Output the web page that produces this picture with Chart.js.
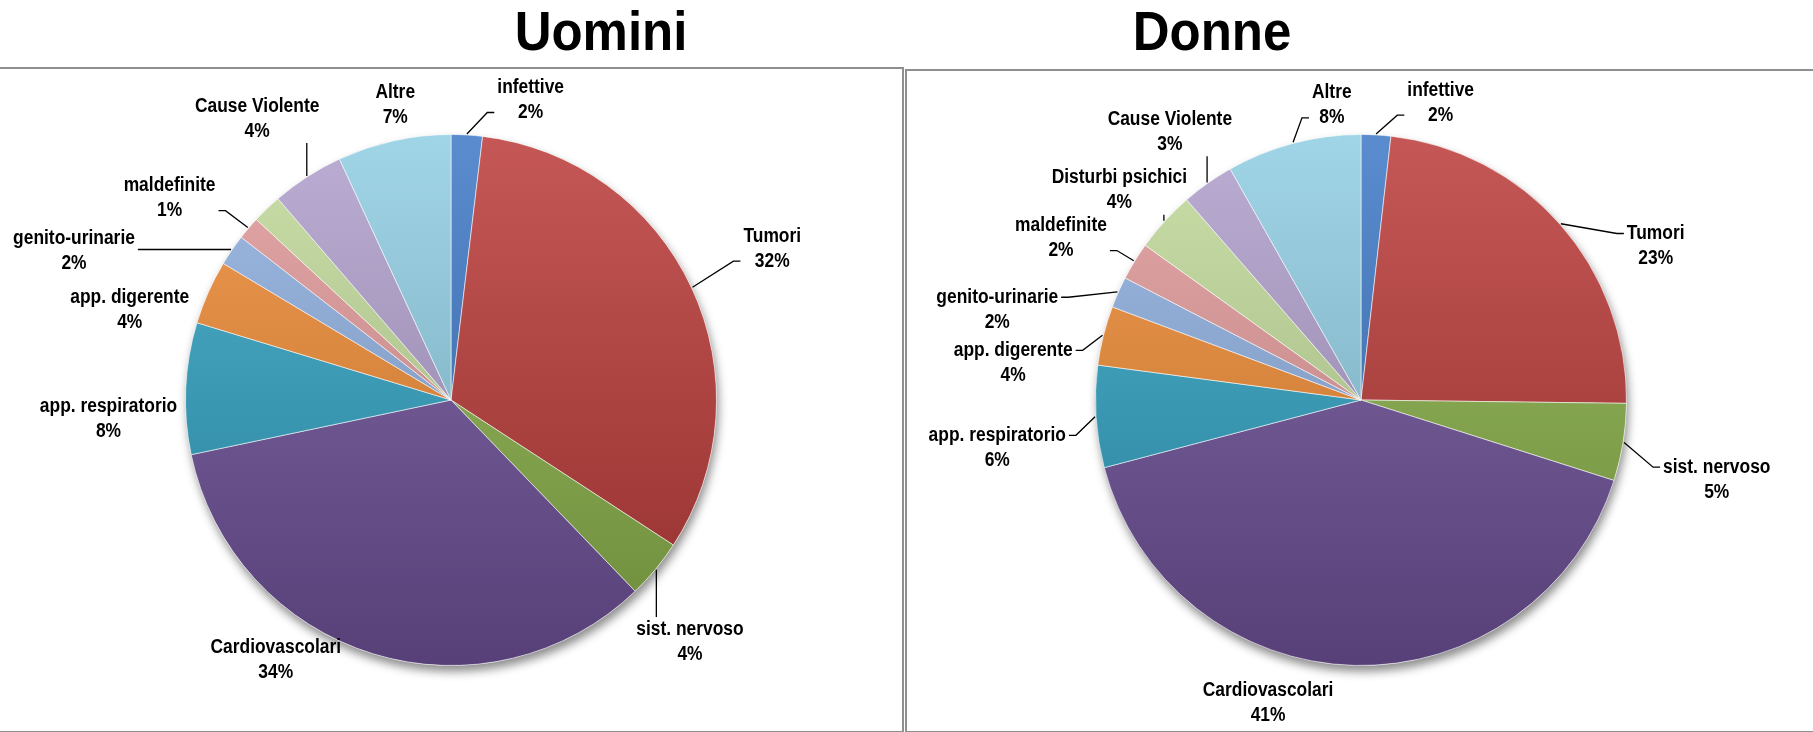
<!DOCTYPE html>
<html>
<head>
<meta charset="utf-8">
<script src="https://cdn.jsdelivr.net/npm/chart.js@4.4.1/dist/chart.umd.min.js"></script>
<style>
  html, body { margin: 0; padding: 0; background: #fff; }
  body { width: 1813px; height: 732px; position: relative; overflow: hidden; font-family: "Liberation Sans", Arial, sans-serif; }
  .title { position: absolute; top: 3px; width: 400px; text-align: center; font-weight: bold; font-size: 56px; line-height: 56px; color: #000; transform: scaleX(0.91); }
  .panel { position: absolute; box-sizing: border-box; border: 2px solid #8f8f8f; }
  .chartBox { position: absolute; }
</style>
</head>
<body>
<div class="title" style="left:401px">Uomini</div>
<div class="title" style="left:1012px">Donne</div>

<div class="panel" style="left:-2px; top:67px; width:906px; height:666px;"></div>
<div class="panel" style="left:905px; top:69px; width:920px; height:664px;"></div>

<div class="chartBox" style="left:0px; top:68px; width:902px; height:663px;"><canvas id="uomini"></canvas></div>
<div class="chartBox" style="left:907px; top:71px; width:906px; height:660px;"><canvas id="donne"></canvas></div>

<script>
const causes = [
  "infettive", "Tumori", "sist. nervoso", "Cardiovascolari", "app. respiratorio",
  "app. digerente", "genito-urinarie", "maldefinite", "Disturbi psichici",
  "Cause Violente", "Altre",
];
const uominiValues = [1.9, 32.3, 3.6, 33.9, 8.0, 3.9, 1.9, 1.4, 1.8, 4.4, 6.9];
const donneValues = [1.8, 23.4, 4.7, 41.0, 6.2, 3.6, 1.9, 2.3, 3.7, 3.2, 8.2];
const sliceColors = [
  "#3d78c6", "#bb3b38", "#8ab24a", "#6f529a", "#31a3c3", "#f08a33",
  "#8fb0e0", "#e39a9a", "#c2db9a", "#b09fcc", "#8fcde3",
];

// label placement, in units of the pie radius from its centre (null = no label)
const uominiLabelPos = [
  [0.30, -1.13], [1.21, -0.57], [0.90, 0.91], [-0.66, 0.98], [-1.29, 0.07],
  [-1.21, -0.34], [-1.42, -0.56], [-1.06, -0.76], null, [-0.73, -1.06], [-0.21, -1.11],
];
const donneLabelPos = [
  [0.30, -1.12], [1.11, -0.58], [1.34, 0.30], [-0.35, 1.14], [-1.37, 0.18],
  [-1.31, -0.14], [-1.37, -0.34], [-1.13, -0.61], [-0.91, -0.79], [-0.72, -1.01], [-0.11, -1.11],
];
const uominiLeaders = [1, 1, 1, 0, 0, 0, 1, 1, 0, 1, 0];
const donneLeaders = [1, 1, 1, 0, 1, 1, 1, 1, 1, 1, 1];

const TEXT_SCALE = 0.87; // labels are a narrow bold face

function shade(hex, f) {
  const n = parseInt(hex.slice(1), 16);
  let rgb = [(n >> 16) & 255, (n >> 8) & 255, n & 255];
  rgb = rgb.map((v) => Math.round(f > 0 ? v + (255 - v) * f : v * (1 + f)));
  return `rgb(${rgb[0]}, ${rgb[1]}, ${rgb[2]})`;
}

// soft shadow under the pie
const pieShadow = {
  id: "pieShadow",
  beforeDatasetsDraw(chart) {
    const arc = chart.getDatasetMeta(0).data[0];
    if (!arc) return;
    const { x, y, outerRadius } = arc.getProps(["x", "y", "outerRadius"], true);
    const ctx = chart.ctx;
    ctx.save();
    ctx.shadowColor = "rgba(0, 0, 0, 0.45)";
    ctx.shadowBlur = 10;
    ctx.shadowOffsetX = 2;
    ctx.shadowOffsetY = 6;
    ctx.fillStyle = "#fff";
    ctx.beginPath();
    ctx.arc(x, y, outerRadius, 0, Math.PI * 2);
    ctx.fill();
    ctx.restore();
  },
};

function narrowText(ctx, text, x, y) {
  ctx.save();
  ctx.translate(x, y);
  ctx.scale(TEXT_SCALE, 1);
  ctx.fillText(text, 0, 0);
  ctx.restore();
}

// two line labels (name + percent) with leader lines
const pieLabels = {
  id: "pieLabels",
  afterDatasetsDraw(chart, args, opts) {
    const ctx = chart.ctx;
    const meta = chart.getDatasetMeta(0);
    const values = chart.data.datasets[0].data;
    const total = values.reduce((a, b) => a + b, 0);
    ctx.save();
    ctx.font = "bold 20px 'Liberation Sans', Arial, sans-serif";
    ctx.fillStyle = "#000";
    ctx.strokeStyle = "#000";
    ctx.lineWidth = 1.3;
    ctx.textAlign = "center";
    ctx.textBaseline = "middle";
    meta.data.forEach((arc, i) => {
      const pos = opts.positions[i];
      if (!pos) return;
      const { x, y, startAngle, endAngle, outerRadius } = arc.getProps(
        ["x", "y", "startAngle", "endAngle", "outerRadius"], true);
      const lx = x + pos[0] * outerRadius;
      const ly = y + pos[1] * outerRadius;
      const name = chart.data.labels[i];
      const pct = Math.round((values[i] / total) * 100) + "%";
      const line1 = ly - 12.5;
      const line2 = ly + 12.5;
      narrowText(ctx, name, lx, line1);
      narrowText(ctx, pct, lx, line2);

      if (!opts.leaders[i]) return;
      const mid = (startAngle + endAngle) / 2;
      const ex = x + Math.cos(mid) * (outerRadius + 1);
      const ey = y + Math.sin(mid) * (outerRadius + 1);
      const half = TEXT_SCALE * Math.max(ctx.measureText(name).width, ctx.measureText(pct).width) / 2;
      const left = lx - half;
      const right = lx + half;
      ctx.beginPath();
      ctx.moveTo(ex, ey);
      if (ex > left && ex < right) {
        ctx.lineTo(ex, ey < ly ? line1 - 12 : line2 + 12);
      } else {
        const dir = lx > ex ? 1 : -1;
        const ax = dir > 0 ? left - 3 : right + 3;
        const ay = Math.min(Math.max(ey, line1), line2);
        ctx.lineTo(ax - dir * 7, ay);
        ctx.lineTo(ax, ay);
      }
      ctx.stroke();
    });
    ctx.restore();
  },
};

function makePie(id, values, labelPos, leaders, padding) {
  const ctx = document.getElementById(id).getContext("2d");
  return new Chart(ctx, {
    type: "pie",
    data: {
      labels: causes,
      datasets: [
        {
          data: values,
          backgroundColor: (c) => {
            const area = c.chart.chartArea;
            const base = sliceColors[c.dataIndex];
            if (!area) return base;
            const g = c.chart.ctx.createLinearGradient(0, area.top, 0, area.bottom);
            g.addColorStop(0, shade(base, 0.15));
            g.addColorStop(1, shade(base, -0.22));
            return g;
          },
          borderColor: "rgba(255, 255, 255, 0.55)",
          borderWidth: 1,
        },
      ],
    },
    options: {
      responsive: true,
      maintainAspectRatio: false,
      animation: false,
      rotation: 0,
      layout: { padding: padding },
      plugins: {
        legend: { display: false },
        tooltip: { enabled: false },
        pieLabels: { positions: labelPos, leaders: leaders },
      },
    },
    plugins: [pieShadow, pieLabels],
  });
}

makePie("uomini", uominiValues, uominiLabelPos, uominiLeaders,
  { left: 185, right: 185, top: 66, bottom: 65 });
makePie("donne", donneValues, donneLabelPos, donneLeaders,
  { left: 188, right: 186, top: 63, bottom: 65 });
</script>
</body>
</html>
